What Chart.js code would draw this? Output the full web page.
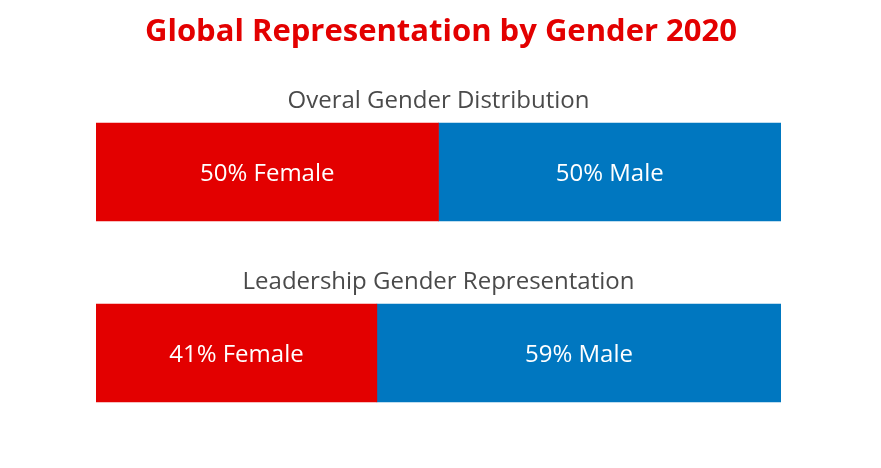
<!DOCTYPE html>
<html><head><meta charset="utf-8">
<script src="https://cdn.jsdelivr.net/npm/chart.js@4"></script>
<style>html,body{margin:0;padding:0;background:#fff}#w{width:881px;height:468px}</style>
</head><body><div id="w"><canvas id="c"></canvas></div>
<script>
const categories = ["Overal Gender Distribution", "Leadership Gender Representation"];
const femaleValues = [50, 41];
const maleValues = [50, 59];
const seriesNames = ["Female", "Male"];
const titleText = "Global Representation by Gender 2020";
const FONT = "'Open Sans', Lato, sans-serif";

const deco = {
  id: 'deco',
  afterDatasetsDraw(chart) {
    const ctx = chart.ctx;
    ctx.save();
    ctx.textAlign = 'center';
    ctx.textBaseline = 'middle';
    ctx.fillStyle = '#e30000';
    ctx.font = "bold 31px " + FONT;
    ctx.fillText(titleText, 441, 32);
    const ca = chart.chartArea;
    chart.data.datasets.forEach((ds, di) => {
      chart.getDatasetMeta(di).data.forEach((bar, i) => {
        const p = bar.getProps(['x', 'base', 'y', 'height'], true);
        ctx.fillStyle = '#fff';
        ctx.font = "24px " + FONT;
        ctx.fillText(ds.data[i] + '% ' + ds.label, (p.x + p.base) / 2, p.y + 2);
        if (di === 0) {
          ctx.fillStyle = '#4a4a4a';
          ctx.font = "24px " + FONT;
          ctx.fillText(categories[i], (ca.left + ca.right) / 2, p.y - p.height / 2 - 22);
        }
      });
    });
    ctx.restore();
  }
};

new Chart(document.getElementById('c'), {
  type: 'bar',
  data: {
    labels: categories,
    datasets: [
      { label: seriesNames[0], data: femaleValues, backgroundColor: '#e30000', barThickness: 98 },
      { label: seriesNames[1], data: maleValues, backgroundColor: '#0077c0', barThickness: 98 }
    ]
  },
  options: {
    indexAxis: 'y',
    responsive: true, maintainAspectRatio: false, animation: false,
    layout: { padding: { left: 96, right: 100, top: 81.5, bottom: 24.5 } },
    scales: {
      x: { stacked: true, min: 0, max: 100, display: false },
      y: { stacked: true, display: false }
    },
    plugins: { legend: { display: false }, tooltip: { enabled: false } }
  },
  plugins: [deco]
});
</script></body></html>
